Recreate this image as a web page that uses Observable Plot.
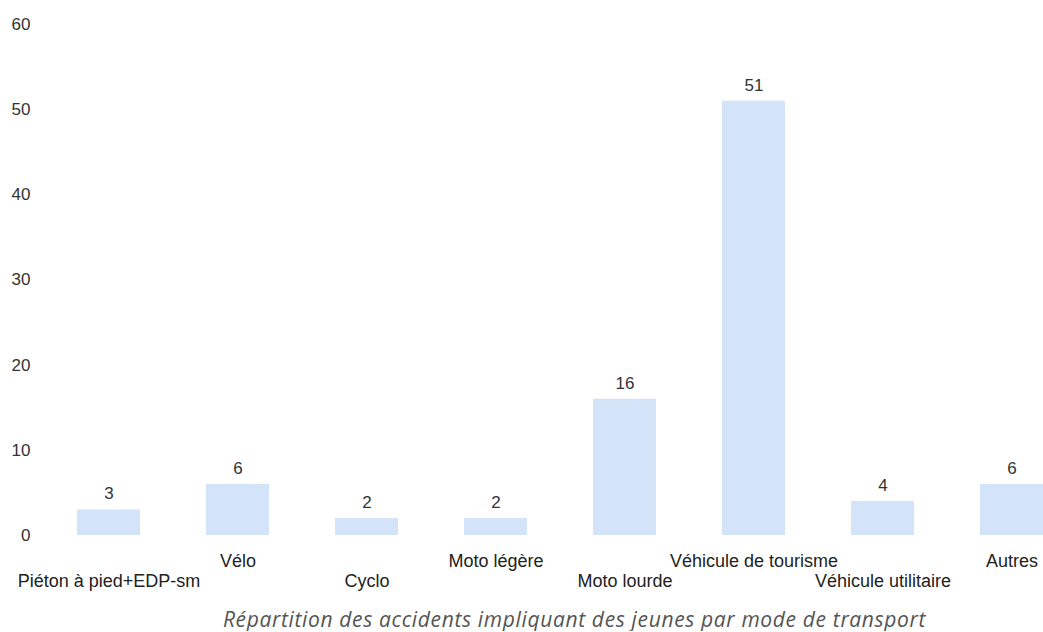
<!DOCTYPE html>
<html>
<head>
<meta charset="utf-8">
<script src="https://cdn.jsdelivr.net/npm/d3@7"></script>
<script src="https://cdn.jsdelivr.net/npm/@observablehq/plot@0.6"></script>
<style>
  html, body { margin: 0; padding: 0; background: #fff; overflow: hidden; }
  #chart { width: 1043px; overflow: hidden; }
  #caption { font-family: "Open Sans", sans-serif; font-style: italic; font-size: 21px; color: #555; text-align: center; line-height: 24px; margin-top: 7px; letter-spacing: 0.65px; padding-left: 106px; }
</style>
</head>
<body>
<div id="chart"></div>
<div id="caption">Répartition des accidents impliquant des jeunes par mode de transport</div>
<script>
const categories = ["Piéton à pied+EDP-sm", "Vélo", "Cyclo", "Moto légère", "Moto lourde", "Véhicule de tourisme", "Véhicule utilitaire", "Autres"];
const values = [3, 6, 2, 2, 16, 51, 4, 6];
const yTicks = [0, 10, 20, 30, 40, 50, 60];

const data = categories.map((c, i) => ({cat: c, value: values[i], row: i % 2}));
const lowerRow = data.filter(d => d.row === 0);
const upperRow = data.filter(d => d.row === 1);

const font = "'Liberation Sans', Arial, sans-serif";

const chart = Plot.plot({
  width: 1043,
  height: 600,
  marginTop: 24,
  marginBottom: 65,
  marginLeft: 74,
  marginRight: -4,
  style: {fontFamily: font, fontSize: "17px", color: "#333", background: "#fff", overflow: "visible"},
  x: {domain: categories, paddingInner: 0.51, paddingOuter: 0, axis: null},
  y: {domain: [0, 60], axis: null},
  marks: [
    Plot.axisY({ticks: yTicks, tickSize: 0, tickPadding: 44, label: null, fontSize: 17, fill: "#333"}),
    Plot.barY(data, {x: "cat", y: "value", fill: "#d4e4f8"}),
    Plot.text(data, {x: "cat", y: "value", text: d => String(d.value), dy: -16, fontSize: 17, fill: "#333"}),
    Plot.text(upperRow, {x: "cat", text: "cat", frameAnchor: "bottom", dy: 31, fontSize: 18, fill: "#222"}),
    Plot.text(lowerRow, {x: "cat", text: "cat", frameAnchor: "bottom", dy: 51, fontSize: 18, fill: "#222"})
  ]
});
document.getElementById("chart").appendChild(chart);
</script>
</body>
</html>
